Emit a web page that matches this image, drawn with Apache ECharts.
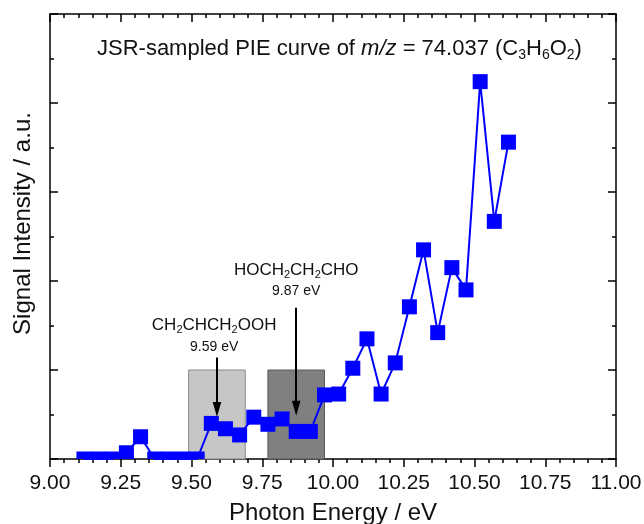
<!DOCTYPE html>
<html>
<head>
<meta charset="utf-8">
<title>JSR-sampled PIE curve</title>
<script src="https://cdn.jsdelivr.net/npm/echarts@6.0.0/dist/echarts.min.js"></script>
<style>
  html, body { margin: 0; padding: 0; background: #fff; }
  #chart { width: 644px; height: 524px; }
</style>
</head>
<body>
<div id="chart"></div>
<script>
// photon energies (eV) and JSR-sampled signal (a.u.)
const energies = [9.12, 9.17, 9.22, 9.27, 9.32, 9.37, 9.42, 9.47, 9.52, 9.57,
  9.62, 9.67, 9.72, 9.77, 9.82, 9.87, 9.92, 9.97, 10.02, 10.07,
  10.12, 10.17, 10.22, 10.27, 10.32, 10.37, 10.42, 10.47, 10.52, 10.57, 10.62];
const signal = [0, 0, 0, 0.07, 0.25, 0, 0, 0, 0, 0.40,
  0.34, 0.27, 0.47, 0.39, 0.45, 0.31, 0.31, 0.72, 0.73, 1.02,
  1.35, 0.73, 1.08, 1.71, 2.35, 1.42, 2.15, 1.90, 4.24, 2.67, 3.56];

// x axis range / step, y axis range / step
const xRange = [9, 11];
const xStep = 0.25;
const yRange = [0, 5];
const yStep = 1;

// candidate isomers and their ionization energies
const isomers = ['CH2CHCH2OOH', 'HOCH2CH2CHO'];
const isomerIE = [9.59, 9.87];
const boxFrom = [9.49, 9.77];
const boxTo = [9.69, 9.97];
const boxTop = [1, 1];
const arrowFrom = [1.14, 1.70];
const arrowTo = [0.555, 0.57];
const labelX = [9.58, 9.87];
const labelY = [1.38, 2.0];

const txt = '#111';
const font = 'Liberation Sans, Arial, sans-serif';

// turn "CH2CHO" into rich tokens with subscripted digits
function formula(s) {
  return s.split(/(\d)/).filter(p => p !== '')
    .map(p => /\d/.test(p) ? '{s|' + p + '}' : '{f|' + p + '}').join('');
}

const chart = echarts.init(document.getElementById('chart'));

const tickLine = { color: '#000', width: 1.5 };

function xAxisOf(pos) {
  const bottom = pos === 'bottom';
  return {
    type: 'value',
    position: pos,
    min: xRange[0],
    max: xRange[1],
    interval: xStep,
    axisLine: { show: true, onZero: false, lineStyle: tickLine },
    axisTick: { show: true, inside: !bottom, length: 8, lineStyle: tickLine },
    minorTick: { show: true, splitNumber: 5, length: 4, lineStyle: tickLine },
    splitLine: { show: false },
    minorSplitLine: { show: false },
    axisLabel: {
      show: bottom, fontSize: 21, color: txt, margin: 14, fontFamily: font,
      formatter: v => v.toFixed(2)
    },
    name: bottom ? 'Photon Energy / eV' : '',
    nameLocation: 'middle',
    nameGap: 42,
    nameTextStyle: { fontSize: 24, color: txt, fontFamily: font }
  };
}

function yAxisOf(pos) {
  const left = pos === 'left';
  return {
    type: 'value',
    position: pos,
    min: yRange[0],
    max: yRange[1],
    interval: yStep,
    axisLine: { show: true, onZero: false, lineStyle: tickLine },
    axisTick: { show: true, inside: true, length: 8, lineStyle: tickLine },
    minorTick: { show: true, splitNumber: 2, length: 4, lineStyle: tickLine },
    splitLine: { show: false },
    minorSplitLine: { show: false },
    axisLabel: { show: false },
    name: left ? 'Signal Intensity / a.u.' : '',
    nameLocation: 'middle',
    nameGap: 15,
    nameTextStyle: { fontSize: 24, color: txt, fontFamily: font, padding: [0, 0, 0, 26] }
  };
}

const points = energies.map((e, i) => [e, signal[i]]);

const option = {
  animation: false,
  backgroundColor: '#fff',
  textStyle: { fontFamily: font },
  title: {
    text: 'JSR-sampled PIE curve of {i|m/z} = 74.037 (C{s|3}H{s|6}O{s|2})',
    left: 97,
    top: 35,
    padding: 0,
    textStyle: {
      fontSize: 22, fontWeight: 'normal', color: txt, lineHeight: 27, fontFamily: font,
      rich: {
        i: { fontStyle: 'italic', fontSize: 22, lineHeight: 27, color: txt, fontFamily: font },
        s: { fontSize: 14, lineHeight: 14, padding: [13, 0, 0, 0], color: txt, fontFamily: font }
      }
    }
  },
  grid: { left: 50, right: 28, top: 14, bottom: 65, outerBoundsMode: 'none' },
  xAxis: [xAxisOf('bottom'), xAxisOf('top')],
  yAxis: [yAxisOf('left'), yAxisOf('right')],
  series: [
    {
      type: 'line',
      data: points,
      showSymbol: false,
      symbol: 'none',
      lineStyle: { color: '#0000ff', width: 2 },
      z: 3,
      markArea: {
        silent: true,
        z: 1,
        data: isomers.map((n, i) => [
          {
            xAxis: boxFrom[i], yAxis: 0,
            itemStyle: {
              color: i === 0 ? '#c6c6c6' : '#808080',
              borderColor: i === 0 ? '#8a8a8a' : '#5a5a5a',
              borderWidth: 1
            }
          },
          { xAxis: boxTo[i], yAxis: boxTop[i] }
        ])
      },
      markLine: {
        silent: true,
        z: 5,
        symbol: ['none', 'path://M4 0L8 14L0 14Z'],
        symbolSize: 15,
        symbolKeepAspect: true,
        label: { show: false },
        lineStyle: { color: '#000', width: 2, type: 'solid' },
        data: isomers.map((n, i) => [
          { coord: [isomerIE[i], arrowFrom[i]] },
          { coord: [isomerIE[i], arrowTo[i]] }
        ])
      },
      markPoint: {
        silent: true,
        z: 6,
        symbol: 'circle',
        symbolSize: 0,
        data: isomers.map((n, i) => ({
          coord: [labelX[i], labelY[i]],
          label: {
            show: true,
            position: 'inside',
            align: 'center',
            formatter: formula(n) + '\n{e|' + isomerIE[i].toFixed(2) + ' eV}',
            rich: {
              f: { fontSize: 17, lineHeight: 21, color: txt, fontFamily: font },
              s: { fontSize: 11, lineHeight: 11, padding: [10, 0, 0, 0], color: txt, fontFamily: font },
              e: { fontSize: 14, lineHeight: 22, color: txt, fontFamily: font }
            }
          }
        }))
      }
    },
    {
      type: 'custom',
      data: points,
      z: 4,
      encode: { x: 0, y: 1 },
      renderItem: function (params, api) {
        const p = api.coord([api.value(0), api.value(1)]);
        const s = 15;
        const cs = params.coordSys;
        const r = echarts.graphic.clipRectByRect(
          { x: p[0] - s / 2, y: p[1] - s / 2, width: s, height: s },
          { x: cs.x, y: cs.y, width: cs.width, height: cs.height }
        );
        if (!r) return null;
        return { type: 'rect', shape: r, style: { fill: '#0000ff' } };
      }
    }
  ]
};

chart.setOption(option);
</script>
</body>
</html>
